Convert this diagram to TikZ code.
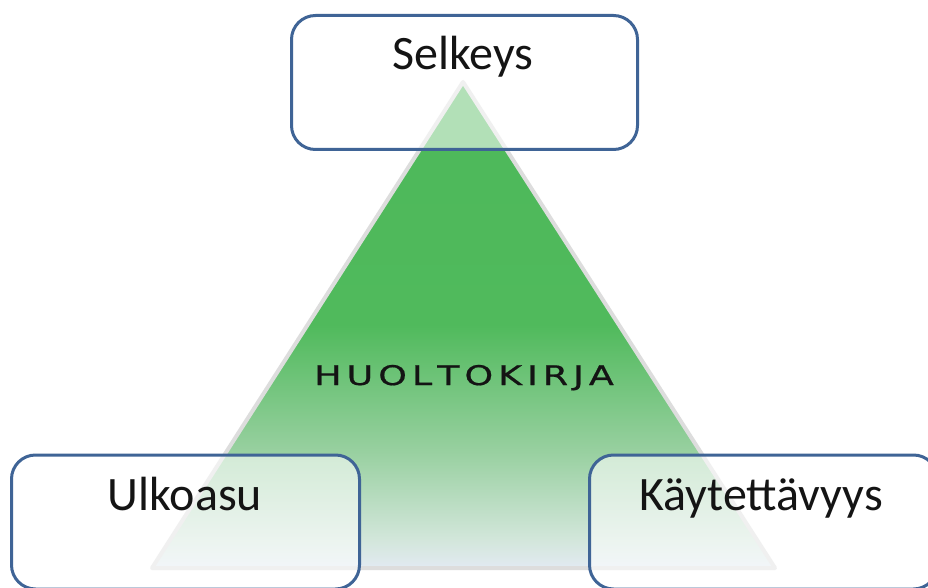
\documentclass[tikz,border=0pt]{standalone}
\usepackage{fontspec}
\setmainfont{Carlito}
\newfontfamily\hkfont[FakeBold=0.6]{DejaVu Sans}
\definecolor{boxblue}{HTML}{3F6496}
\definecolor{trigray}{HTML}{DDDDDD}
\definecolor{tb1}{HTML}{4DB85A}
\definecolor{tb2}{HTML}{50BA5C}
\definecolor{tb3}{HTML}{98D0A0}
\definecolor{tb4}{HTML}{D2E6DA}
\definecolor{tb5}{HTML}{E2EAF2}
\pgfdeclareverticalshading{trishade}{100bp}{%
  color(0bp)=(tb5); color(25bp)=(tb5); color(28bp)=(tb4); color(37bp)=(tb3);
  color(50bp)=(tb2); color(75bp)=(tb1); color(100bp)=(tb1)}
\newcommand{\hkk}{\kern3.7pt}
\tikzset{
  box/.style={draw=boxblue, line width=3pt, fill=white, fill opacity=0.57,
    rounded corners=24pt, rectangle, inner sep=0pt},
  label/.style={font=\fontsize{48}{56}\selectfont, text=black!92, anchor=base, inner sep=0pt},
  title/.style={font=\hkfont\fontsize{27}{32}\selectfont, text=black!92, anchor=base, inner sep=0pt}
}
\begin{document}
\begin{tikzpicture}[x=1pt,y=1pt]
\useasboundingbox (0,0) rectangle (928,587);
\clip (0,0) rectangle (928,587);
\fill[white] (0,0) rectangle (928,587);
% triangle
\coordinate (apex) at (463,505);
\coordinate (bl) at (152,19);
\coordinate (br) at (775,19);
\shade[shading=trishade, draw=trigray, line width=4pt, line join=round]
  (apex) -- (bl) -- (br) -- cycle;
\node[title] (hk) at (464,202) {\scalebox{1.35}[1]{H\hkk U\hkk O\hkk L\hkk T\hkk O\hkk K\hkk I\hkk R\hkk J\hkk A}};
% boxes
\node[box, minimum width=346pt, minimum height=134pt] (top) at (464.5,504.5) {};
\node[box, minimum width=348pt, minimum height=134pt] (left) at (185.5,65) {};
\node[box, minimum width=348pt, minimum height=134pt] (right) at (763.5,65) {};
% labels
\node[label] (sel) at (463,517) {Selkeys};
\node[label] (ulk) at (185,77) {Ulkoasu};
\node[label] (kay) at (761,77) {Käytettävyys};
\end{tikzpicture}
\end{document}
